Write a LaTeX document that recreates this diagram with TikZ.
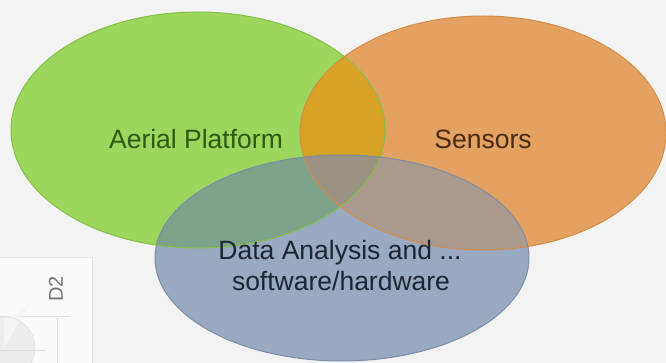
\documentclass[tikz,border=0pt]{standalone}
\usepackage{fontspec}
\setmainfont{Liberation Sans}
\definecolor{bgcol}{HTML}{F3F3F3}
\definecolor{greenfill}{HTML}{9CD65C}
\definecolor{greenline}{HTML}{84C046}
\definecolor{orangefill}{HTML}{E3A262}
\definecolor{orangeline}{HTML}{D58C44}
\definecolor{bluefill}{HTML}{98A9C1}
\definecolor{blueline}{HTML}{7D8DA6}
\definecolor{ogfill}{HTML}{D7A226}
\definecolor{gbfill}{HTML}{7CA38A}
\definecolor{obfill}{HTML}{AB9A8E}
\definecolor{tripfill}{HTML}{9A9282}
\definecolor{greentext}{HTML}{2C5A12}
\definecolor{orangetext}{HTML}{4A2A12}
\definecolor{bluetext}{HTML}{1C2535}
\newcommand{\pathGreen}{(198,130) ellipse [x radius=187, y radius=118]}
\newcommand{\pathOrange}{(483,133) ellipse [x radius=183, y radius=117]}
\newcommand{\pathBlue}{(342,258) ellipse [x radius=187, y radius=103]}
\begin{document}
\begin{tikzpicture}[x=1pt,y=-1pt,
  label/.style={font=\fontsize{26.5}{31}\selectfont, align=center, inner sep=0pt},
  panel/.style={draw=black!10, fill=white!70!bgcol, line width=0.8pt},
  faint/.style={draw=black!13, line width=0.8pt},
  rim/.style={line width=1pt}]
  \fill[bgcol] (0,0) rectangle (666,363);
  \useasboundingbox (0,0) rectangle (666,363);

  % small chart panel in the lower left corner
  \draw[panel] (-2,257) rectangle (92,366);
  \draw[faint] (0,316) -- (70,316);
  \draw[faint] (57,318) -- (57,366);
  \fill[black!7] (4,348) circle (31);
  \fill[black!4] (4,348) -- (4,317) arc[start angle=90, end angle=30, radius=31] -- cycle;
  \draw[black!12, line width=0.6pt] (4,348) circle (31);
  \draw[faint] (-2,350) -- (46,350);
  \node[font=\fontsize{20}{24}\selectfont, text=black!55, rotate=90, inner sep=0pt] (d2) at (56,289) {D2};

  % the three sets
  \fill[greenfill] \pathGreen;
  \fill[orangefill] \pathOrange;
  \fill[bluefill] \pathBlue;

  % overlaps
  \begin{scope}
    \clip \pathGreen;
    \fill[ogfill] \pathOrange;
  \end{scope}
  \begin{scope}
    \clip \pathGreen;
    \fill[gbfill] \pathBlue;
  \end{scope}
  \begin{scope}
    \clip \pathOrange;
    \fill[obfill] \pathBlue;
  \end{scope}
  \begin{scope}
    \clip \pathGreen;
    \clip \pathOrange;
    \fill[tripfill] \pathBlue;
  \end{scope}

  % outlines
  \draw[rim, greenline] \pathGreen;
  \draw[rim, orangeline] \pathOrange;
  \draw[rim, blueline] \pathBlue;

  % labels
  \node[label, text=greentext] (aerial) at (196,139) {Aerial Platform};
  \node[label, text=orangetext] (sensors) at (483,139) {Sensors};
  \node[label, text=bluetext, anchor=base] (data) at (340,259) {Data Analysis and ...};
  \node[label, text=bluetext, anchor=base] (soft) at (341,290) {software/hardware};
\end{tikzpicture}
\end{document}
